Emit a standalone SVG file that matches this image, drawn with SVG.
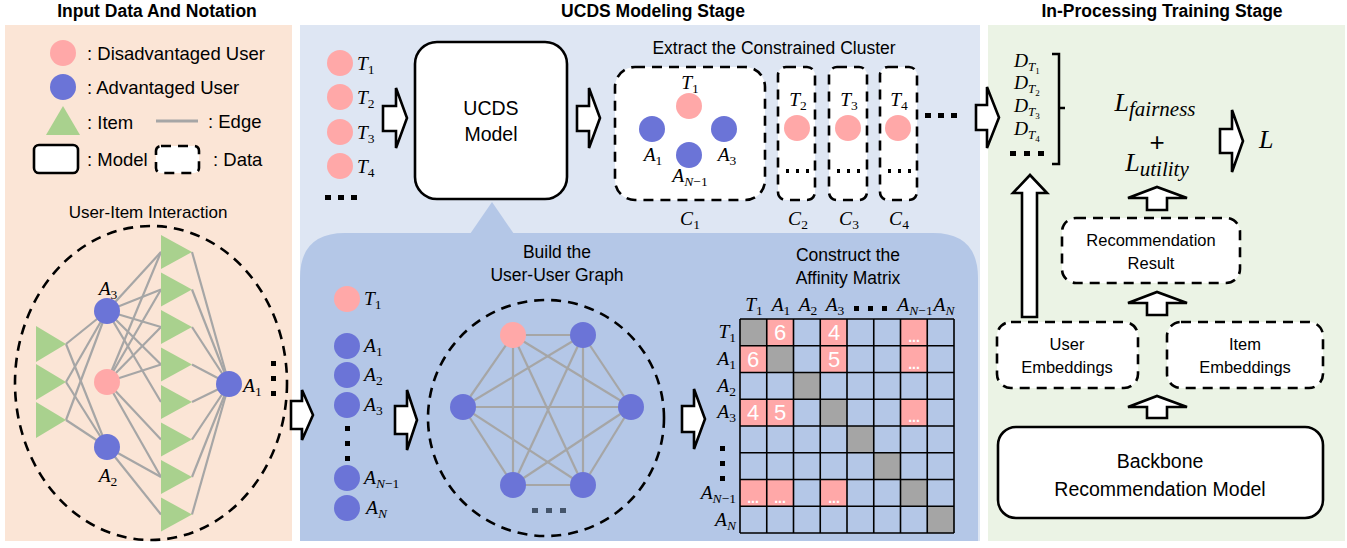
<svg xmlns="http://www.w3.org/2000/svg" width="1347" height="548" viewBox="0 0 1347 548">
<style>
.pk{fill:#FFA8A8}
.bl{fill:#6B74D7}
.tri{fill:#A9D18E}
.edge{stroke:#A6A6A6;stroke-width:2.2;fill:none}
.dash{fill:none;stroke:#000;stroke-width:2.6;stroke-dasharray:10 7}
.dashw{fill:#fff;stroke:#000;stroke-width:2.6;stroke-dasharray:10 7}
.solid{fill:#fff;stroke:#000;stroke-width:2.6}
.arr{fill:#fff;stroke:#000;stroke-width:2.6;stroke-linejoin:miter}
.t{font-family:"Liberation Sans",Arial,sans-serif;fill:#000}
.h{font-family:"Liberation Sans",Arial,sans-serif;font-weight:bold;font-size:17.5px;fill:#000;text-anchor:middle}
.m{font-family:"Liberation Serif","Times New Roman",serif;font-style:italic;fill:#000;font-size:19.5px}
.s{font-size:13.5px}
.n{font-style:normal}
.c{text-anchor:middle}
.wn{font-family:"Liberation Sans",Arial,sans-serif;fill:#fff;text-anchor:middle}
.dot{fill:#000}
.big{font-size:26px}
.bigs{font-size:21px}
</style>

<!-- panels -->
<g id="panels">
<rect x="5" y="25" width="287" height="516" fill="#FBE5D6"/>
<rect x="300" y="25" width="680" height="516" fill="#DEE6F3"/>
<rect x="988" y="25" width="357" height="516" fill="#EBF3E5"/>
<path d="M300,541 V278 Q300,233 345,233 H933 Q978,233 978,278 V541 Z" fill="#B4C7E7"/>
<polygon points="470,234 492,202 514,234" fill="#B4C7E7"/>
<text class="h" x="157" y="17">Input Data And Notation</text>
<text class="h" x="653" y="17">UCDS Modeling Stage</text>
<text class="h" x="1162" y="17">In-Processing Training Stage</text>
</g>

<!-- legend -->
<g id="legend">
<circle class="pk" cx="63" cy="53" r="13"/>
<text class="t" x="87" y="60" font-size="18.5">: Disadvantaged User</text>
<circle class="bl" cx="63" cy="87" r="13"/>
<text class="t" x="87" y="94" font-size="18.5">: Advantaged User</text>
<polygon class="tri" points="46,135 80,135 63,106"/>
<text class="t" x="87" y="129" font-size="18.5">: Item</text>
<line x1="156" y1="121" x2="198" y2="121" stroke="#A6A6A6" stroke-width="3"/>
<text class="t" x="208" y="128" font-size="18.5">: Edge</text>
<rect class="solid" x="34" y="145" width="44" height="28" rx="5"/>
<text class="t" x="87" y="166" font-size="18.5">: Model</text>
<rect class="dashw" x="156" y="146" width="43" height="27" rx="5" stroke-dasharray="8 6"/>
<text class="t" x="213" y="166" font-size="18.5">: Data</text>
</g>

<!-- user-item interaction -->
<g id="user-item-graph">
<text class="t c" x="148" y="218" font-size="17">User-Item Interaction</text>
<ellipse class="dash" cx="151" cy="383" rx="136" ry="157"/>
<g class="edge">
<line x1="66" y1="344" x2="107" y2="311"/><line x1="66" y1="344" x2="107" y2="447"/>
<line x1="66" y1="382" x2="107" y2="311"/><line x1="66" y1="382" x2="107" y2="447"/>
<line x1="66" y1="420" x2="107" y2="311"/><line x1="66" y1="420" x2="107" y2="447"/>
<line x1="107" y1="311" x2="161" y2="252"/><line x1="107" y1="311" x2="161" y2="289.5"/>
<line x1="107" y1="311" x2="161" y2="327"/><line x1="107" y1="311" x2="161" y2="364.5"/>
<line x1="107" y1="311" x2="161" y2="402"/>
<line x1="107" y1="382" x2="161" y2="252"/><line x1="107" y1="382" x2="161" y2="289.5"/>
<line x1="107" y1="382" x2="161" y2="327"/><line x1="107" y1="382" x2="161" y2="364.5"/>
<line x1="107" y1="382" x2="161" y2="439.5"/><line x1="107" y1="382" x2="161" y2="477"/>
<line x1="107" y1="447" x2="161" y2="477"/><line x1="107" y1="447" x2="161" y2="514.5"/>
<line x1="229" y1="384" x2="192" y2="252"/><line x1="229" y1="384" x2="192" y2="289.5"/>
<line x1="229" y1="384" x2="192" y2="327"/><line x1="229" y1="384" x2="192" y2="364.5"/>
<line x1="229" y1="384" x2="192" y2="402"/><line x1="229" y1="384" x2="192" y2="439.5"/>
<line x1="229" y1="384" x2="192" y2="477"/><line x1="229" y1="384" x2="192" y2="514.5"/>
</g>
<g class="tri">
<polygon points="36,326 36,362 66,344"/>
<polygon points="36,364 36,400 66,382"/>
<polygon points="36,402 36,438 66,420"/>
<polygon points="161,235 161,269 192,252"/>
<polygon points="161,272.5 161,306.5 192,289.5"/>
<polygon points="161,310 161,344 192,327"/>
<polygon points="161,347.5 161,381.5 192,364.5"/>
<polygon points="161,385 161,419 192,402"/>
<polygon points="161,422.5 161,456.5 192,439.5"/>
<polygon points="161,460 161,494 192,477"/>
<polygon points="161,497.5 161,531.5 192,514.5"/>
</g>
<circle class="bl" cx="107" cy="311" r="13"/>
<circle class="pk" cx="107" cy="382" r="13"/>
<circle class="bl" cx="107" cy="447" r="13"/>
<circle class="bl" cx="229" cy="384" r="13"/>
<text class="m c" x="108" y="295">A<tspan class="s n" dy="4">3</tspan></text>
<text class="m c" x="108" y="482">A<tspan class="s n" dy="4">2</tspan></text>
<text class="m" x="243" y="392">A<tspan class="s n" dy="4">1</tspan></text>
<rect class="dot" x="271" y="361" width="5" height="5"/>
<rect class="dot" x="271" y="376" width="5" height="5"/>
<rect class="dot" x="271" y="391" width="5" height="5"/>
</g>

<!-- UCDS top -->
<g id="t-list">
<circle class="pk" cx="340" cy="63" r="13"/><circle class="pk" cx="340" cy="97" r="13"/>
<circle class="pk" cx="340" cy="132" r="13"/><circle class="pk" cx="340" cy="166" r="13"/>
<text class="m" x="357" y="70">T<tspan class="s n" dy="4">1</tspan></text>
<text class="m" x="357" y="104">T<tspan class="s n" dy="4">2</tspan></text>
<text class="m" x="357" y="139">T<tspan class="s n" dy="4">3</tspan></text>
<text class="m" x="357" y="173">T<tspan class="s n" dy="4">4</tspan></text>
<rect class="dot" x="325" y="195" width="6" height="5"/><rect class="dot" x="338" y="195" width="6" height="5"/><rect class="dot" x="351" y="195" width="6" height="5"/>
</g>

<g id="ucds-model">
<rect class="solid" x="415" y="42" width="152" height="157" rx="22"/>
<text class="t c" x="491" y="115" font-size="19.5">UCDS</text>
<text class="t c" x="491" y="141" font-size="19.5">Model</text>
</g>

<g id="clusters">
<text class="t c" x="774" y="54" font-size="17.5">Extract the Constrained Cluster</text>
<rect class="dashw" x="615" y="67" width="150" height="133" rx="20"/>
<circle class="pk" cx="689" cy="106" r="13"/>
<circle class="bl" cx="652" cy="129" r="13"/>
<circle class="bl" cx="724" cy="129" r="13"/>
<circle class="bl" cx="689" cy="155" r="13"/>
<text class="m c" x="690" y="89">T<tspan class="s n" dy="4">1</tspan></text>
<text class="m c" x="653" y="161">A<tspan class="s n" dy="4">1</tspan></text>
<text class="m c" x="727" y="161">A<tspan class="s n" dy="4">3</tspan></text>
<text class="m c" x="690" y="182">A<tspan class="s" dy="4">N</tspan><tspan class="s n">−1</tspan></text>
<rect class="dashw" x="778" y="67" width="37" height="133" rx="8"/>
<rect class="dashw" x="829" y="67" width="38" height="133" rx="8"/>
<rect class="dashw" x="880" y="67" width="37" height="133" rx="8"/>
<circle class="pk" cx="797" cy="128" r="13"/><circle class="pk" cx="848" cy="128" r="13"/><circle class="pk" cx="898" cy="128" r="13"/>
<text class="m c" x="798" y="106">T<tspan class="s n" dy="4">2</tspan></text>
<text class="m c" x="849" y="106">T<tspan class="s n" dy="4">3</tspan></text>
<text class="m c" x="899" y="106">T<tspan class="s n" dy="4">4</tspan></text>
<g class="dot">
<rect x="786" y="169" width="3" height="4"/><rect x="796" y="169" width="3" height="4"/><rect x="806" y="169" width="3" height="4"/>
<rect x="837" y="169" width="3" height="4"/><rect x="847" y="169" width="3" height="4"/><rect x="857" y="169" width="3" height="4"/>
<rect x="888" y="169" width="3" height="4"/><rect x="898" y="169" width="3" height="4"/><rect x="908" y="169" width="3" height="4"/>
<rect x="925" y="113" width="6" height="5"/><rect x="938" y="113" width="6" height="5"/><rect x="951" y="113" width="6" height="5"/>
</g>
<text class="m c" x="690" y="225">C<tspan class="s n" dy="4">1</tspan></text>
<text class="m c" x="798" y="225">C<tspan class="s n" dy="4">2</tspan></text>
<text class="m c" x="849" y="225">C<tspan class="s n" dy="4">3</tspan></text>
<text class="m c" x="899" y="225">C<tspan class="s n" dy="4">4</tspan></text>
</g>

<!-- user list -->
<g id="user-list">
<circle class="pk" cx="347" cy="299" r="13"/>
<circle class="bl" cx="347" cy="346" r="13"/>
<circle class="bl" cx="347" cy="375" r="13"/>
<circle class="bl" cx="347" cy="405" r="13"/>
<circle class="bl" cx="347" cy="478" r="13"/>
<circle class="bl" cx="347" cy="508" r="13"/>
<text class="m" x="364" y="305">T<tspan class="s n" dy="4">1</tspan></text>
<text class="m" x="364" y="352">A<tspan class="s n" dy="4">1</tspan></text>
<text class="m" x="364" y="381">A<tspan class="s n" dy="4">2</tspan></text>
<text class="m" x="364" y="411">A<tspan class="s n" dy="4">3</tspan></text>
<text class="m" x="364" y="484">A<tspan class="s" dy="4">N</tspan><tspan class="s n">−1</tspan></text>
<text class="m" x="366" y="514">A<tspan class="s" dy="4">N</tspan></text>
<rect class="dot" x="345" y="426" width="5" height="5"/><rect class="dot" x="345" y="441" width="5" height="5"/><rect class="dot" x="345" y="456" width="5" height="5"/>
</g>

<!-- user-user graph -->
<g id="user-user-graph">
<text class="t c" x="557" y="258" font-size="17.5">Build the</text>
<text class="t c" x="557" y="281" font-size="17.5">User-User Graph</text>
<circle class="dash" cx="546" cy="418" r="118"/>
<g class="edge">
<line x1="513" y1="335" x2="583" y2="335"/><line x1="513" y1="335" x2="463" y2="407"/>
<line x1="513" y1="335" x2="631" y2="407"/><line x1="513" y1="335" x2="513" y2="485"/>
<line x1="513" y1="335" x2="583" y2="485"/><line x1="583" y1="335" x2="463" y2="407"/>
<line x1="583" y1="335" x2="631" y2="407"/><line x1="583" y1="335" x2="513" y2="485"/>
<line x1="583" y1="335" x2="583" y2="485"/><line x1="463" y1="407" x2="631" y2="407"/>
<line x1="463" y1="407" x2="513" y2="485"/><line x1="463" y1="407" x2="583" y2="485"/>
<line x1="631" y1="407" x2="513" y2="485"/><line x1="631" y1="407" x2="583" y2="485"/>
<line x1="513" y1="485" x2="583" y2="485"/>
</g>
<circle class="pk" cx="513" cy="335" r="13"/>
<circle class="bl" cx="583" cy="335" r="13"/>
<circle class="bl" cx="463" cy="407" r="13"/>
<circle class="bl" cx="631" cy="407" r="13"/>
<circle class="bl" cx="513" cy="485" r="13"/>
<circle class="bl" cx="583" cy="485" r="13"/>
<rect x="532" y="508" width="6" height="5" fill="#44546A"/><rect x="546" y="508" width="6" height="5" fill="#44546A"/><rect x="560" y="508" width="6" height="5" fill="#44546A"/>
</g>

<!-- affinity matrix -->
<g id="affinity-matrix">
<text class="t c" x="848" y="261" font-size="17.5">Construct the</text>
<text class="t c" x="848" y="284" font-size="17.5">Affinity Matrix</text>
<rect x="740" y="319" width="214" height="214" fill="#B4C7E7"/>
<g fill="#A5A5A5">
<rect x="740" y="319" width="26.75" height="26.75"/>
<rect x="766.75" y="345.75" width="26.75" height="26.75"/>
<rect x="793.5" y="372.5" width="26.75" height="26.75"/>
<rect x="820.25" y="399.25" width="26.75" height="26.75"/>
<rect x="847" y="426" width="26.75" height="26.75"/>
<rect x="873.75" y="452.75" width="26.75" height="26.75"/>
<rect x="900.5" y="479.5" width="26.75" height="26.75"/>
<rect x="927.25" y="506.25" width="26.75" height="26.75"/>
</g>
<g fill="#FFA8A8">
<rect x="766.75" y="319" width="26.75" height="26.75"/>
<rect x="820.25" y="319" width="26.75" height="26.75"/>
<rect x="900.5" y="319" width="26.75" height="26.75"/>
<rect x="740" y="345.75" width="26.75" height="26.75"/>
<rect x="820.25" y="345.75" width="26.75" height="26.75"/>
<rect x="900.5" y="345.75" width="26.75" height="26.75"/>
<rect x="740" y="399.25" width="26.75" height="26.75"/>
<rect x="766.75" y="399.25" width="26.75" height="26.75"/>
<rect x="900.5" y="399.25" width="26.75" height="26.75"/>
<rect x="740" y="479.5" width="26.75" height="26.75"/>
<rect x="766.75" y="479.5" width="26.75" height="26.75"/>
<rect x="820.25" y="479.5" width="26.75" height="26.75"/>
</g>
<g class="wn" font-size="22">
<text x="780" y="340">6</text><text x="834" y="340">4</text>
<text x="753" y="367">6</text><text x="834" y="367">5</text>
<text x="753" y="420">4</text><text x="780" y="420">5</text>
</g>
<g class="wn" font-size="14" font-weight="bold">
<text x="914" y="342">...</text><text x="914" y="369">...</text><text x="914" y="422">...</text>
<text x="753" y="503">...</text><text x="780" y="503">...</text><text x="834" y="503">...</text>
</g>
<path d="M740,319 H954 M740,345.75 H954 M740,372.5 H954 M740,399.25 H954 M740,426 H954 M740,452.75 H954 M740,479.5 H954 M740,506.25 H954 M740,533 H954 M740,319 V533 M766.75,319 V533 M793.5,319 V533 M820.25,319 V533 M847,319 V533 M873.75,319 V533 M900.5,319 V533 M927.25,319 V533 M954,319 V533" stroke="#000" stroke-width="1.6" fill="none"/>
<text class="m c" x="754" y="311">T<tspan class="s n" dy="4">1</tspan></text>
<text class="m c" x="781" y="311">A<tspan class="s n" dy="4">1</tspan></text>
<text class="m c" x="808" y="311">A<tspan class="s n" dy="4">2</tspan></text>
<text class="m c" x="835" y="311">A<tspan class="s n" dy="4">3</tspan></text>
<rect class="dot" x="854" y="306" width="5" height="5"/><rect class="dot" x="868" y="306" width="5" height="5"/><rect class="dot" x="882" y="306" width="5" height="5"/>
<text class="m c" x="915" y="311">A<tspan class="s" dy="4">N</tspan><tspan class="s n">−1</tspan></text>
<text class="m c" x="944" y="311">A<tspan class="s" dy="4">N</tspan></text>
<g class="m" text-anchor="end">
<text x="736" y="338">T<tspan class="s n" dy="4">1</tspan></text>
<text x="736" y="365">A<tspan class="s n" dy="4">1</tspan></text>
<text x="736" y="392">A<tspan class="s n" dy="4">2</tspan></text>
<text x="736" y="418">A<tspan class="s n" dy="4">3</tspan></text>
<text x="736" y="499">A<tspan class="s" dy="4">N</tspan><tspan class="s n">−1</tspan></text>
<text x="736" y="526">A<tspan class="s" dy="4">N</tspan></text>
</g>
<rect class="dot" x="720" y="446" width="5" height="5"/><rect class="dot" x="720" y="461" width="5" height="5"/><rect class="dot" x="720" y="476" width="5" height="5"/>
</g>

<!-- training stage -->
<g id="fairness-terms">
<g class="m">
<text x="1014" y="67">D<tspan font-size="13" dy="4">T</tspan><tspan class="n" font-size="9" dy="3">1</tspan></text>
<text x="1014" y="89">D<tspan font-size="13" dy="4">T</tspan><tspan class="n" font-size="9" dy="3">2</tspan></text>
<text x="1014" y="112">D<tspan font-size="13" dy="4">T</tspan><tspan class="n" font-size="9" dy="3">3</tspan></text>
<text x="1014" y="135">D<tspan font-size="13" dy="4">T</tspan><tspan class="n" font-size="9" dy="3">4</tspan></text>
</g>
<rect class="dot" x="1010" y="151" width="6" height="5"/><rect class="dot" x="1024" y="151" width="6" height="5"/><rect class="dot" x="1038" y="151" width="6" height="5"/>
<path d="M1052,54 H1059 V164 H1052 M1059,108 H1065" stroke="#000" stroke-width="2.5" fill="none"/>
</g>
<g id="loss">
<text class="m c big" x="1155" y="111">L<tspan class="bigs" dy="5">fairness</tspan></text>
<text class="t c big" x="1157" y="151" font-family="Liberation Serif">+</text>
<text class="m c big" x="1157" y="171">L<tspan class="bigs" dy="5">utility</tspan></text>
<text class="m big" x="1259" y="148">L</text>
</g>
<g id="recommendation-result">
<rect class="dashw" x="1062" y="218" width="178" height="65" rx="14"/>
<text class="t c" x="1151" y="246" font-size="16.5">Recommendation</text>
<text class="t c" x="1151" y="269" font-size="16.5">Result</text>
</g>
<g id="user-embeddings">
<rect class="dashw" x="997" y="322" width="141" height="66" rx="14"/>
<text class="t c" x="1067" y="350" font-size="16.5">User</text>
<text class="t c" x="1067" y="373" font-size="16.5">Embeddings</text>
</g>
<g id="item-embeddings">
<rect class="dashw" x="1167" y="322" width="156" height="66" rx="14"/>
<text class="t c" x="1245" y="350" font-size="16.5">Item</text>
<text class="t c" x="1245" y="373" font-size="16.5">Embeddings</text>
</g>
<g id="backbone">
<rect class="solid" x="998" y="427" width="325" height="91" rx="18"/>
<text class="t c" x="1160" y="468" font-size="19.5">Backbone</text>
<text class="t c" x="1160" y="496" font-size="19.5">Recommendation Model</text>
</g>

<!-- connectors -->
<g id="connectors">
<path class="arr" d="M291,401 H302 V390 L313,415 L302,440 V429 H291 Z"/>
<path class="arr" d="M383,106 H396 V88 L407,118 L396,148 V131 H383 Z"/>
<path class="arr" d="M577,106 H589 V88 L600,118 L589,148 V131 H577 Z"/>
<path class="arr" d="M976,105 H987 V87 L999,117.5 L987,148 V130 H976 Z"/>
<path class="arr" d="M395,406 H407 V390 L417,420 L407,450 V434 H395 Z"/>
<path class="arr" d="M682,406 H694 V389 L705,419 L694,449 V432 H682 Z"/>
<path class="arr" d="M1220,129 H1232 V110 L1243,141 L1232,172 V153 H1220 Z"/>
<path class="arr" d="M1022,317 V193 H1013 L1030,175 L1047,193 H1037 V317 Z"/>
<path class="arr" d="M1147,210 V198 H1128 L1157,187 L1187,198 H1167 V210 Z"/>
<path class="arr" d="M1147,315 V303 H1128 L1157,292 L1187,303 H1167 V315 Z"/>
<path class="arr" d="M1147,418 V407 H1128 L1157,396 L1187,407 H1167 V418 Z"/>
</g>
</svg>
